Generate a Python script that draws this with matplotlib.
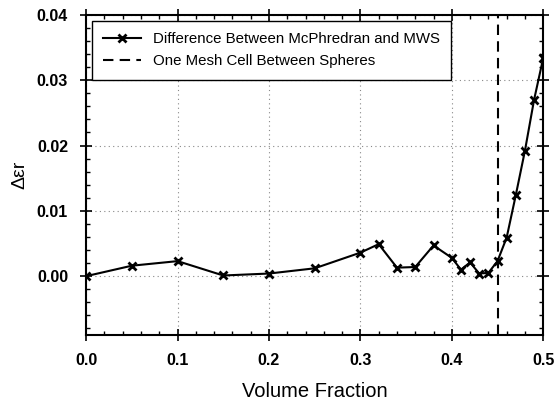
import matplotlib
matplotlib.use("Agg")
import matplotlib.pyplot as plt
from matplotlib.ticker import MultipleLocator

plt.rcParams['font.family'] = ['Liberation Sans', 'DejaVu Sans']

volume_fraction = [0.0, 0.05, 0.10, 0.15, 0.20, 0.25, 0.30, 0.32, 0.34, 0.36, 0.38,
                   0.40, 0.41, 0.42, 0.43, 0.44, 0.45, 0.46, 0.47, 0.48, 0.49, 0.50]
delta_eps = [0.0, 0.0016, 0.0023, 0.0001, 0.0004, 0.0012, 0.0036, 0.0049, 0.0013, 0.0014, 0.0047,
             0.0028, 0.0010, 0.0021, 0.0004, 0.0005, 0.0023, 0.0059, 0.0124, 0.0192, 0.0270, 0.0334]
mesh_cell_x = 0.45

x_ticks = [0.0, 0.1, 0.2, 0.3, 0.4, 0.5]
x_tick_labels = ['0.0', '0.1', '0.2', '0.3', '0.4', '0.5']
y_ticks = [0.0, 0.01, 0.02, 0.03, 0.04]
y_tick_labels = ['0.00', '0.01', '0.02', '0.03', '0.04']

series_label = "Difference Between McPhredran and MWS"
line_label = "One Mesh Cell Between Spheres"

fig = plt.figure(figsize=(5.56, 4.04), dpi=100)
ax = fig.add_axes([0.155, 0.171, 0.822, 0.792])

ax.plot(volume_fraction, delta_eps, color='black', lw=1.5, marker='x', ms=6, mew=2,
        label=series_label)
ax.axvline(mesh_cell_x, color='black', lw=1.5, ls=(0, (5, 3)), label=line_label)

ax.set_xlim(0, 0.5)
ax.set_ylim(-0.009, 0.04)
ax.set_xticks(x_ticks)
ax.set_xticklabels(x_tick_labels)
ax.xaxis.set_minor_locator(MultipleLocator(0.02))
ax.set_yticks(y_ticks)
ax.set_yticklabels(y_tick_labels)
ax.yaxis.set_minor_locator(MultipleLocator(0.002))

ax.grid(True, which='major', color='#888888', ls=(0, (1, 3)), lw=0.8)
ax.tick_params(which='major', direction='inout', length=8, width=1.2, top=True, right=True,
               labelsize=11.5, pad=9)
ax.tick_params(which='minor', direction='in', length=3, width=1, top=True, right=True)
for lab in ax.get_xticklabels() + ax.get_yticklabels():
    lab.set_fontweight('bold')
for s in ax.spines.values():
    s.set_linewidth(1.5)

ax.set_xlabel("Volume Fraction", fontsize=14.5, labelpad=10)
ax.set_ylabel("Δεr", fontsize=14, labelpad=6)

leg = ax.legend(loc='upper left', fontsize=10.8, frameon=True, fancybox=False,
                edgecolor='black', framealpha=1, handlelength=2.5, borderaxespad=0.4,
                labelspacing=0.55, borderpad=0.75)
leg.get_frame().set_linewidth(1.0)

fig.savefig("out.png", dpi=100)
